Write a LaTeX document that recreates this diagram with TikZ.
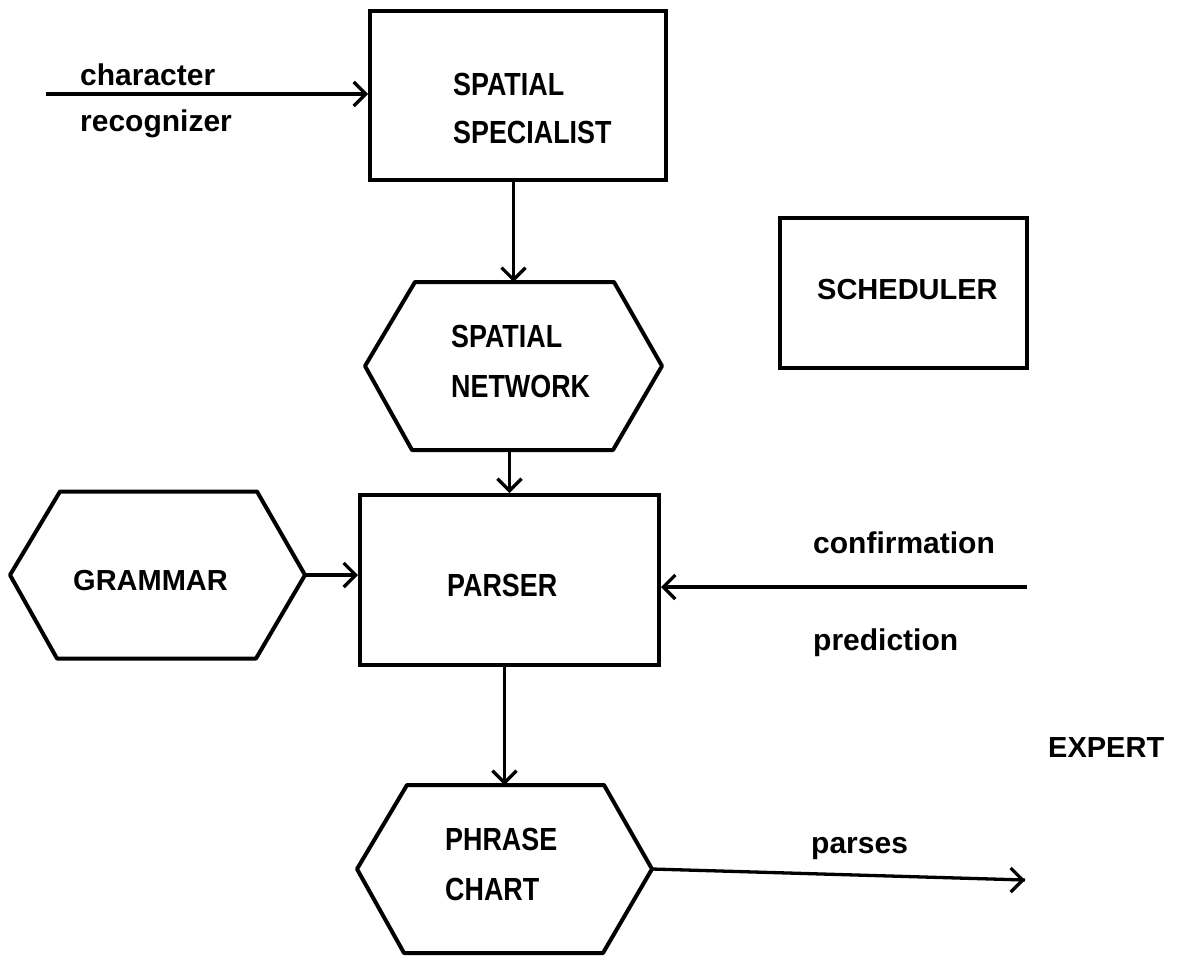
\documentclass[tikz,border=0pt]{standalone}
\usepackage{fontspec}
\setmainfont{Liberation Sans}
\newfontfamily\condfont[FakeStretch=0.84]{Liberation Sans}
\usetikzlibrary{arrows.meta}
\tikzset{
  box/.style={draw, rectangle, line width=4pt, inner sep=0pt},
  hexframe/.style={rectangle, inner sep=0pt, outer sep=0pt},
  hexline/.style={line width=4pt, line join=round},
  arr/.style={line width=3.3pt, -{Straight Barb[length=12pt,width=24pt]}},
  capc/.style={anchor=base west, inner sep=0pt, font=\condfont\bfseries\fontsize{32}{38}\selectfont},
  capw/.style={anchor=base west, inner sep=0pt, font=\bfseries\fontsize{29}{35}\selectfont},
  low/.style={anchor=base west, inner sep=0pt, font=\bfseries\fontsize{30}{36}\selectfont}
}
\begin{document}
\begin{tikzpicture}[x=1pt,y=-1pt]
\useasboundingbox[fill=white] (0,0) rectangle (1183,956);
% rectangular boxes
\node[box, minimum width=296pt, minimum height=169pt] (spec) at (518,95.5) {};
\node[box, minimum width=247pt, minimum height=150pt] (sched) at (903.5,293) {};
\node[box, minimum width=299pt, minimum height=170pt] (pars) at (509.5,580) {};
% hexagons
\node[hexframe, minimum width=297pt, minimum height=168pt] (net) at (513.5,366) {};
\node[hexframe, minimum width=295pt, minimum height=167pt] (gram) at (157.5,575) {};
\node[hexframe, minimum width=295pt, minimum height=168pt] (phr) at (504.5,869) {};
\foreach \h in {net,gram,phr}{
  \draw[hexline] (\h.west) -- ([xshift=50pt]\h.north west) -- ([xshift=-48pt]\h.north east)
    -- (\h.east) -- ([xshift=-49pt]\h.south east) -- ([xshift=47pt]\h.south west) -- cycle;
}
% labels
\node[capc] (specA) at (453,95) {SPATIAL};
\node[capc] (specB) at (453,143) {SPECIALIST};
\node[capc] (netA) at (451,347) {SPATIAL};
\node[capc] (netB) at (451,397) {NETWORK};
\node[capw] (gramT) at (73,590) {GRAMMAR};
\node[capc] (parsT) at (447,596) {PARSER};
\node[capc] (phrA) at (445,850) {PHRASE};
\node[capc] (phrB) at (445,900) {CHART};
\node[capw] (schedT) at (817,299) {SCHEDULER};
\node[capw] (expT) at (1048,757) {EXPERT};
\node[low] (charT) at (80,85) {character};
\node[low] (recT) at (80,131) {recognizer};
\node[low] (confT) at (813,553) {confirmation};
\node[low] (predT) at (813,650) {prediction};
\node[low] (parsesT) at (811,853) {parses};
% free ends
\coordinate (cin) at (46,94);
\coordinate (ein) at (1027,587);
\coordinate (pout) at (1025,880);
% connectors
\draw[arr] (cin) -- (cin -| spec.west);
\draw[arr] (spec.south -| net.north) -- (net.north);
\draw[arr] (net.south -| pars.north) -- (pars.north);
\draw[arr] (gram.east) -- (gram.east -| pars.west);
\draw[arr] (ein) -- (ein -| pars.east);
\draw[arr] (pars.south -| phr.north) -- (phr.north);
\draw[line width=3.3pt] (phr.east) -- (pout);
\draw[arr] ([xshift=-5pt]pout) -- (pout);
\end{tikzpicture}
\end{document}
